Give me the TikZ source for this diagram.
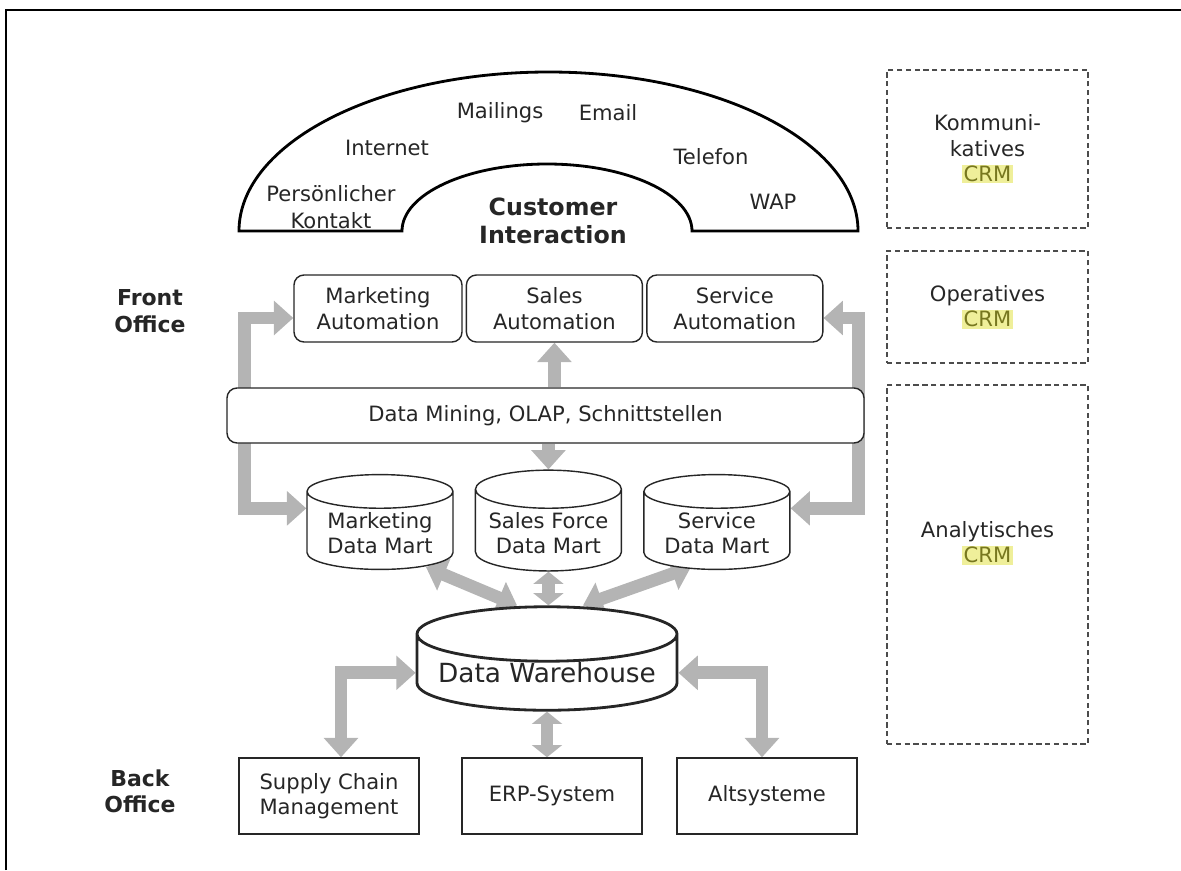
\documentclass[tikz,border=0pt]{standalone}
\usepackage{fontspec}
\setmainfont{DejaVu Sans}
\usepackage{xcolor}
\usetikzlibrary{arrows.meta,positioning,shapes.geometric,calc,backgrounds}

\definecolor{crmgelb}{HTML}{EFEF9A}
\definecolor{crmtext}{HTML}{77771F}
\definecolor{pfeilgrau}{HTML}{B4B4B4}
\newcommand{\crm}{{\setlength{\fboxsep}{0.8pt}\colorbox{crmgelb}{\textcolor{crmtext}{CRM}}}}

\begin{document}
\begin{tikzpicture}[x=0.2mm, y=-0.2mm,
  every node/.style={font=\fontsize{12}{14.5}\selectfont, text=black!85},
  >={Triangle[length=11pt, width=19pt]},
  kasten/.style={draw=black!85, line width=0.8pt, align=center, inner sep=2pt},
  modul/.style={kasten, rounded corners=2mm, fill=white, minimum height=13.4mm},
  system/.style={kasten, fill=white, minimum width=36mm, minimum height=15.2mm},
  speicher/.style={kasten, cylinder, shape border rotate=90, shape aspect=0.3,
                   fill=white, minimum width=29.2mm, minimum height=18mm},
  ebene/.style={draw=black!70, line width=0.7pt, dash pattern=on 3pt off 2pt,
                minimum width=40.2mm, align=center},
  fett/.style={font=\fontsize{12.5}{15}\selectfont\bfseries, align=center},
  pfeil/.style={draw=pfeilgrau, line width=7.2pt, line join=miter},
  kurzpfeil/.style={pfeil, >={Triangle[length=7pt, width=17pt]}},
]
  \useasboundingbox (0,0) rectangle (1181,870);
  \draw[line width=1.4pt] (6,870) -- (6,10) -- (1181,10);

  % Kanaele
  \draw[line width=1.6pt, fill=white]
    (239,231) arc[start angle=180, end angle=360, x radius=309.5, y radius=159]
    -- (692,231) arc[start angle=0, end angle=-180, x radius=145, y radius=67]
    -- cycle;
  \node (mailings) at (500,113) {Mailings};
  \node (email) at (608,113) {Email};
  \node (internet) at (387,148) {Internet};
  \node (telefon) at (711,157) {Telefon};
  \node[align=center] (kontakt) at (331,207) {Persönlicher\\[1pt]Kontakt};
  \node (wap) at (773,202) {WAP};
  \node[fett, font=\fontsize{13.5}{16}\selectfont\bfseries]
    (interaktion) at (553,221) {Customer\\Interaction};

  \node[fett] (front) at (150,311) {Front\\Office};
  \node[fett] (back) at (140,791) {Back\\Office};

  % Front Office
  \node[modul, minimum width=33.6mm] (mkauto) at (378,308.5) {Marketing\\Automation};
  \node[modul, minimum width=35.2mm, right=0.6mm of mkauto]
    (salesauto) {Sales\\Automation};
  \node[modul, minimum width=35.2mm, right=0.6mm of salesauto]
    (serviceauto) {Service\\Automation};

  \node[kasten, rounded corners=2mm, fill=white, minimum width=127.4mm,
        minimum height=11mm] (analyse) at (545.5,415.5)
    {Data Mining, OLAP, Schnittstellen};

  % Data Marts
  \node[speicher, anchor=shape center] (mkmart) at (380,522) {Marketing\\Data Mart};
  \node[speicher, right=4.2mm of mkmart] (sfmart) {Sales Force\\Data Mart};
  \node[speicher, right=4.2mm of sfmart] (svmart) {Service\\Data Mart};

  \node[speicher, anchor=shape center, line width=1.6pt, shape aspect=0.25,
        inner sep=0pt, minimum width=52mm, minimum height=19.4mm,
        font=\fontsize{15}{18}\selectfont]
    (dwh) at (547,658.5) {Data Warehouse};

  % Back Office
  \node[system] (scm) at (329,796) {Supply Chain\\Management};
  \node[system] (erp) at (552,796) {ERP-System};
  \node[system] (alt) at (767,796) {Altsysteme};

  % CRM-Ebenen
  \node[ebene, minimum height=31.6mm] (kommunikativ) at (987.5,149)
    {Kommuni-\\katives\\\crm};
  \node[ebene, minimum height=22.4mm] (operativ) at (987.5,307)
    {Operatives\\\crm};
  \node[ebene, minimum height=71.8mm] (analytisch) at (987.5,564.5) {};
  \node[align=center] (analytischtext) at (987.5,543) {Analytisches\\\crm};

  \begin{scope}[on background layer]
    \draw[pfeil, <->] ([yshift=-1.9mm]mkauto.west) -- ++(-49,0)
      |- ([yshift=5mm]mkmart.west);
    \draw[pfeil, <->] ([yshift=-1.9mm]serviceauto.east) -- ++(35,0)
      |- ([yshift=5mm]svmart.east);
    \draw[pfeil, ->] (analyse.north -| salesauto.south) -- (salesauto.south);
    \draw[pfeil, ->] (analyse.south -| sfmart.north) -- (sfmart.north);

    \draw[pfeil, <->] ($(mkmart.south)+(46,-3)$) -- ($(dwh.north)+(-30,0)$);
    \draw[kurzpfeil, <->] (sfmart.south) -- (sfmart.south |- dwh.north);
    \draw[pfeil, <->] ($(svmart.south)+(-26,-3)$) -- ($(dwh.north)+(36,0)$);

    \draw[pfeil, <->] (dwh.west) -| ([xshift=2.4mm]scm.north);
    \draw[kurzpfeil, <->] (dwh.south) -- (dwh.south |- erp.north);
    \draw[pfeil, <->] (dwh.east) -| ([xshift=-1mm]alt.north);
  \end{scope}
\end{tikzpicture}
\end{document}
